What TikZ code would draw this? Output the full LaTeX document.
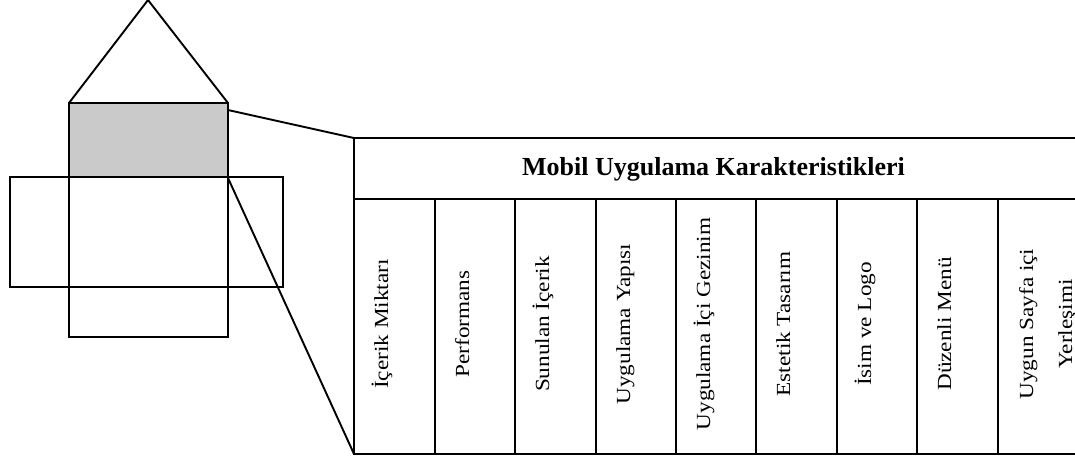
\documentclass[tikz,border=0pt]{standalone}
\usepackage{fontspec}
\usepackage{graphicx}
\setmainfont{Liberation Serif}
\definecolor{facegray}{RGB}{202,202,202}
\begin{document}
\begin{tikzpicture}[x=1pt,y=-1pt,
  shapeline/.style={line width=2.5pt, line join=miter},
  roofline/.style={line width=1.9pt, line join=miter},
  zoomline/.style={line width=1.9pt},
  gridline/.style={line width=1.6pt},
  coltext/.style={rotate=90, anchor=base, inner sep=0pt,
    font=\fontsize{20}{23}\selectfont},
  titletext/.style={anchor=base, inner sep=0pt,
    font=\fontsize{26}{30}\selectfont\bfseries}]
\useasboundingbox (0,0) rectangle (1075,456);
\clip (0,0) rectangle (1075,456);

% corner points of the folded box net
\coordinate (apex) at (148,0);
\coordinate (face-nw) at (69,103);
\coordinate (face-ne) at (228,103);
\coordinate (face-se) at (228,177);
\coordinate (body-sw) at (69,337);
\coordinate (wing-nw) at (10,177);
\coordinate (wing-se) at (283,287);
\coordinate (zoom-top) at (228,110);
\coordinate (zoom-bot) at (228,178);

% table frame
\coordinate (tbl-nw) at (354,138);
\coordinate (tbl-sw) at (354,454);
\coordinate (tbl-se) at (1078,454);
\coordinate (hdr-w) at (354,199);
\coordinate (hdr-e) at (1078,199);

% box net
\fill[facegray] (face-nw) rectangle (face-se);
\draw[roofline] (face-nw) -- (apex) -- (face-ne);
\draw[shapeline] (face-nw) rectangle (body-sw -| face-ne);
\draw[shapeline] (face-nw |- face-se) -- (face-se);
\draw[shapeline] (wing-nw) rectangle (wing-se);

% zoom lines from the shaded face to the table
\draw[zoomline] (zoom-top) -- (tbl-nw);
\draw[zoomline] (zoom-bot) -- (tbl-sw);

% table
\draw[gridline] (tbl-nw) rectangle (tbl-se);
\draw[gridline] (hdr-w) -- (hdr-e);
\foreach \x in {435,515,596,676,756,837,917,998}
  \draw[gridline] (\x,199) -- (\x,454);

\node[titletext] (title) at (713.5,175) {Mobil Uygulama Karakteristikleri};

\foreach \x/\t in {354/{İçerik Miktarı}, 435/{Performans}, 515/{Sunulan İçerik},
                   596/{Uygulama Yapısı}, 676/{Uygulama İçi Gezinim},
                   756/{Estetik Tasarım}, 837/{İsim ve Logo}, 917/{Düzenli Menü}}
  \node[coltext] (col\x) at ({\x+34},324) {\scalebox{1.16}[1]{\t}};

\node[coltext] (col998a) at (1033,324) {\scalebox{1.16}[1]{Uygun Sayfa içi}};
\node[coltext] (col998b) at (1072,324) {\scalebox{1.16}[1]{Yerleşimi}};
\end{tikzpicture}
\end{document}
